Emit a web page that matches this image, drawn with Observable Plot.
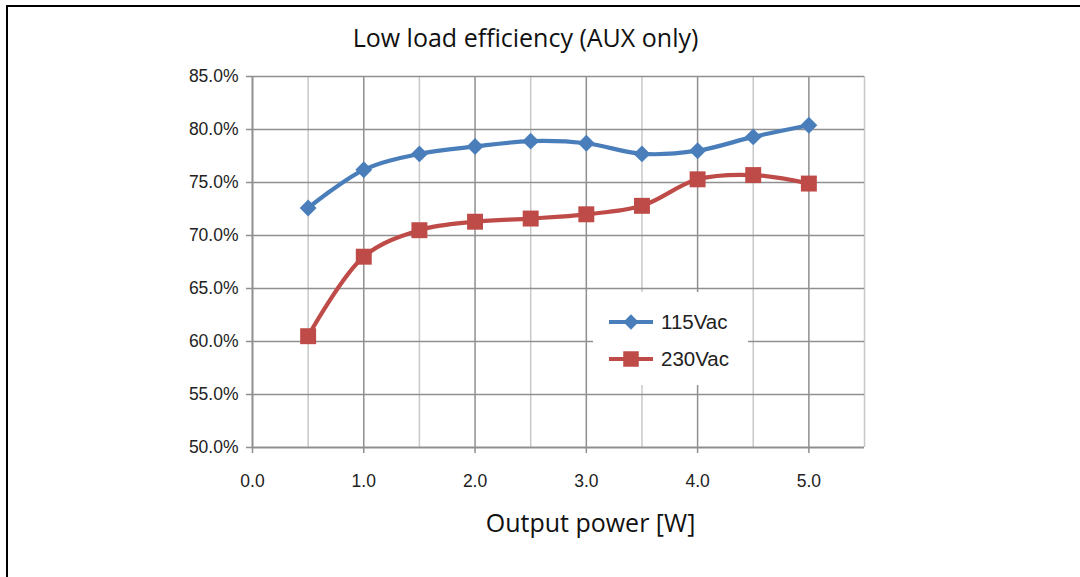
<!DOCTYPE html>
<html><head><meta charset="utf-8">
<script src="https://cdn.jsdelivr.net/npm/d3@7"></script>
<script src="https://cdn.jsdelivr.net/npm/@observablehq/plot@0.6"></script>
<style>
body{margin:0;background:#fff;}
#wrap{position:relative;width:1080px;height:577px;overflow:hidden;background:#fff;}
#chart{position:absolute;left:0;top:0;}
#frame{position:absolute;left:6px;top:5px;width:1100px;height:600px;border-top:2px solid #000;border-left:2px solid #000;}
#legend{position:absolute;left:593px;top:292px;width:155px;height:93px;background:#fff;}
</style></head><body>
<div id="wrap"><div id="chart"></div><div id="frame"></div><div id="legend"></div></div>
<script>
const power = [0.5, 1.0, 1.5, 2.0, 2.5, 3.0, 3.5, 4.0, 4.5, 5.0];
const eff115 = [72.6, 76.2, 77.7, 78.4, 78.9, 78.7, 77.7, 78.0, 79.3, 80.4];
const eff230 = [60.5, 68.0, 70.5, 71.3, 71.6, 72.0, 72.8, 75.3, 75.7, 74.9];
const seriesNames = ["115Vac", "230Vac"];
const seriesColors = ["#4a7ebb", "#be4b48"];
const xTicks = [0, 1, 2, 3, 4, 5];
const xHalfGrid = [0.5, 1.5, 2.5, 3.5, 4.5, 5.5];
const yTicks = [50, 55, 60, 65, 70, 75, 80, 85];
const titleText = "Low load efficiency (AUX only)";
const xLabel = "Output power [W]";

const data = power.flatMap((p, i) => [
  {p, v: eff115[i], s: seriesNames[0]},
  {p, v: eff230[i], s: seriesNames[1]}
]);

const chart = Plot.plot({
  width: 1080, height: 577,
  marginLeft: 252, marginRight: 216, marginTop: 76, marginBottom: 130,
  x: {domain: [0, 5.5]},
  y: {domain: [50, 85]},
  color: {domain: seriesNames, range: seriesColors},
  style: {fontFamily: "'Liberation Sans', Arial, sans-serif", fontSize: "17px", color: "#222", background: "transparent"},
  marks: [
    Plot.ruleX(xHalfGrid, {stroke: "#c8c8c8", strokeWidth: 1.5}),
    Plot.ruleX(xTicks.slice(1), {stroke: "#8f8f8f", strokeWidth: 1.5}),
    Plot.ruleY(yTicks.slice(1), {stroke: "#8f8f8f", strokeWidth: 1.5}),
    Plot.ruleX([0], {stroke: "#8f8f8f", strokeWidth: 2}),
    Plot.ruleY([50], {stroke: "#8f8f8f", strokeWidth: 2}),
    Plot.axisY(yTicks, {tickSize: 6, tickPadding: 8, stroke: "#8f8f8f", strokeWidth: 1.5, fill: "#222", fontSize: 17.5, tickFormat: d => d.toFixed(1) + "%", label: null}),
    Plot.axisX(xTicks, {tickSize: 6, tickPadding: 21, stroke: "#8f8f8f", strokeWidth: 1.5, fill: "#222", fontSize: 17.5, tickFormat: d => d.toFixed(1), label: null}),
    Plot.line(data, {x: "p", y: "v", z: "s", stroke: "s", strokeWidth: 4.2, curve: "catmull-rom"}),
    Plot.dot(data.filter(d => d.s === seriesNames[0]), {x: "p", y: "v", symbol: "diamond2", r: 7.6, fill: "s", stroke: "none"}),
    Plot.dot(data.filter(d => d.s === seriesNames[1]), {x: "p", y: "v", symbol: "square", r: 9, fill: "s", stroke: "none"}),
    Plot.text([titleText], {text: d => d, frameAnchor: "top", lineAnchor: "middle", dy: -38, dx: -33, fontFamily: "'Open Sans', sans-serif", fontSize: 25, fill: "#111"}),
    Plot.text([xLabel], {text: d => d, frameAnchor: "bottom", lineAnchor: "middle", dy: 76, dx: 32, fontFamily: "'Open Sans', sans-serif", fontSize: 25, fill: "#111"})
  ]
});
document.getElementById("chart").appendChild(chart);

// legend
const lg = d3.select("#legend").append("svg").attr("width", 155).attr("height", 93)
  .style("font-family", "'Liberation Sans', Arial, sans-serif");
const rows = [
  {name: seriesNames[0], color: seriesColors[0], sym: d3.symbolDiamond2, size: 150, y: 30},
  {name: seriesNames[1], color: seriesColors[1], sym: d3.symbolSquare, size: 240, y: 67}
];
rows.forEach(r => {
  lg.append("line").attr("x1", 16).attr("x2", 60).attr("y1", r.y).attr("y2", r.y)
    .attr("stroke", r.color).attr("stroke-width", 4.2);
  lg.append("path").attr("d", d3.symbol(r.sym, r.size)()).attr("transform", `translate(38,${r.y})`).attr("fill", r.color);
  lg.append("text").attr("x", 68).attr("y", r.y).attr("dy", "0.35em").attr("font-size", 20.5).attr("fill", "#222").text(r.name);
});
</script>
</body></html>
